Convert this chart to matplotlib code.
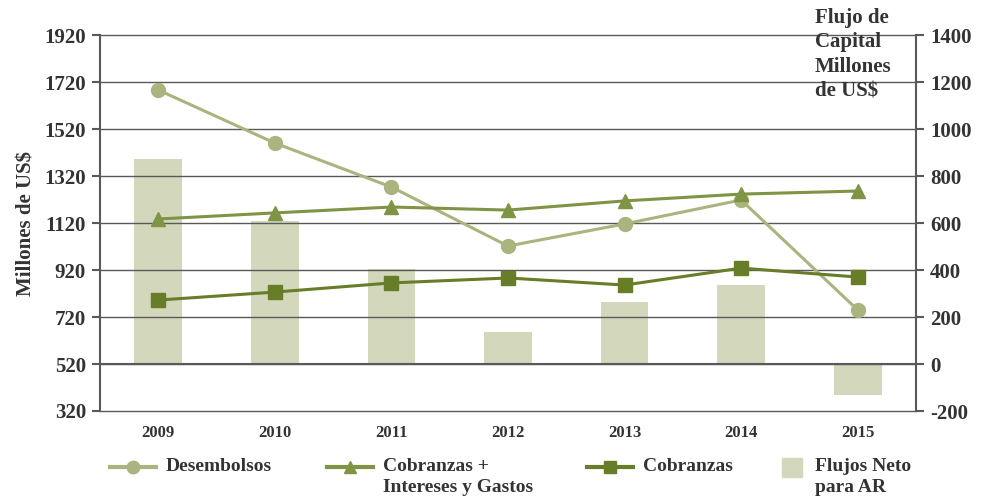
import matplotlib.pyplot as plt
from matplotlib.lines import Line2D
from matplotlib.patches import Rectangle

plt.rcParams['font.family'] = ['Liberation Serif', 'DejaVu Serif']
plt.rcParams['font.weight'] = 'bold'
plt.rcParams['axes.unicode_minus'] = False

# datos
years = ['2009', '2010', '2011', '2012', '2013', '2014', '2015']
desembolsos = [1686, 1460, 1273, 1022, 1116, 1218, 750]
cobr_int_gastos = [1137, 1163, 1188, 1175, 1214, 1243, 1256]
cobranzas = [792, 826, 865, 886, 856, 928, 890]
flujos_neto = [872, 608, 404, 136, 264, 336, -132]

c_des = '#a9b47e'
c_cig = '#7f9444'
c_cob = '#687d27'
c_bar = '#d3d7bc'
c_axis = '#595959'
c_text = '#333333'

W, H = 983, 501
fig = plt.figure(figsize=(W / 100, H / 100), dpi=100)
ax = fig.add_axes([100 / W, 1 - 411 / H, 816 / W, 376 / H])
ax2 = ax.twinx()

x = range(len(years))

# barras en el eje derecho, lineas en el izquierdo
ax2.bar(x, flujos_neto, width=0.41, color=c_bar, zorder=1)
ax2.set_ylim(-200, 1400)
ax.set_ylim(320, 1920)
ax.set_xlim(-0.5, len(years) - 0.5)

ax.set_zorder(ax2.get_zorder() + 1)
ax.patch.set_visible(False)

for v in range(320, 1921, 200):
    ax.axhline(v, color=c_axis, lw=1, zorder=0, clip_on=False)

ax.plot(x, desembolsos, color=c_des, lw=2.2, marker='o', ms=10, zorder=3)
ax.plot(x, cobr_int_gastos, color=c_cig, lw=2.2, marker='^', ms=10, zorder=3)
ax.plot(x, cobranzas, color=c_cob, lw=2.2, marker='s', ms=10, zorder=3)

# ejes
ax.set_yticks(range(320, 1921, 200))
ax.set_xticks(list(x))
ax.set_xticklabels(years, fontsize=12, color=c_text)
ax.set_xticks([i + 0.5 for i in range(len(years) - 1)], minor=True)
ax.tick_params(axis='x', which='both', length=0, pad=10)
ax.tick_params(axis='y', labelsize=15, colors=c_text, length=6, width=1.5, color=c_axis, pad=4)

ax2.set_yticks(range(-200, 1401, 200))
ax2.tick_params(axis='y', labelsize=15, colors=c_text, length=6, width=1.5, color=c_axis, pad=4)
ax2.tick_params(axis='x', which='major', length=0)
ax2.tick_params(axis='x', which='minor', length=6, width=1.5, color=c_axis, direction='out')
ax2.tick_params(axis='x', labelbottom=False)

for s in ['top', 'bottom', 'right']:
    ax.spines[s].set_visible(False)
ax.spines['left'].set_color(c_axis)
ax.spines['left'].set_linewidth(1.5)
ax2.spines['top'].set_visible(False)
ax2.spines['left'].set_visible(False)
ax2.spines['right'].set_color(c_axis)
ax2.spines['right'].set_linewidth(1.5)
ax2.spines['bottom'].set_position(('data', 0))
ax2.spines['bottom'].set_color(c_axis)
ax2.spines['bottom'].set_linewidth(1.5)

ax.set_ylabel('Millones de US$', fontsize=15, fontweight='bold', color=c_text, labelpad=6)
fig.text(815 / W, 1 - 8 / H, 'Flujo de\nCapital\nMillones\nde US$', fontsize=15,
         color=c_text, ha='left', va='top', linespacing=1.3)

# leyenda armada a mano (el simbolo va alineado con la primera linea)
def fx(px):
    return px / W

def fy(py):
    return 1 - py / H

ly = 467
legend_items = [
    (c_des, 'o', 110, 'Desembolsos'),
    (c_cig, '^', 327, 'Cobranzas +\nIntereses y Gastos'),
    (c_cob, 's', 587, 'Cobranzas'),
]
for col, mk, x0, lab in legend_items:
    fig.add_artist(Line2D([fx(x0), fx(x0 + 46)], [fy(ly), fy(ly)], color=col, lw=3,
                          transform=fig.transFigure))
    fig.add_artist(Line2D([fx(x0 + 23)], [fy(ly)], color=col, marker=mk, ms=9,
                          transform=fig.transFigure))
    fig.text(fx(x0 + 56), fy(ly - 9), lab, fontsize=14, color=c_text,
             ha='left', va='top', linespacing=1.3)

fig.add_artist(Rectangle((fx(782), fy(477)), 20 / W, 19 / H, color=c_bar,
                         transform=fig.transFigure))
fig.text(fx(815), fy(ly - 9), 'Flujos Neto\npara AR', fontsize=14, color=c_text,
         ha='left', va='top', linespacing=1.3)

fig.savefig('out.png', dpi=100)
